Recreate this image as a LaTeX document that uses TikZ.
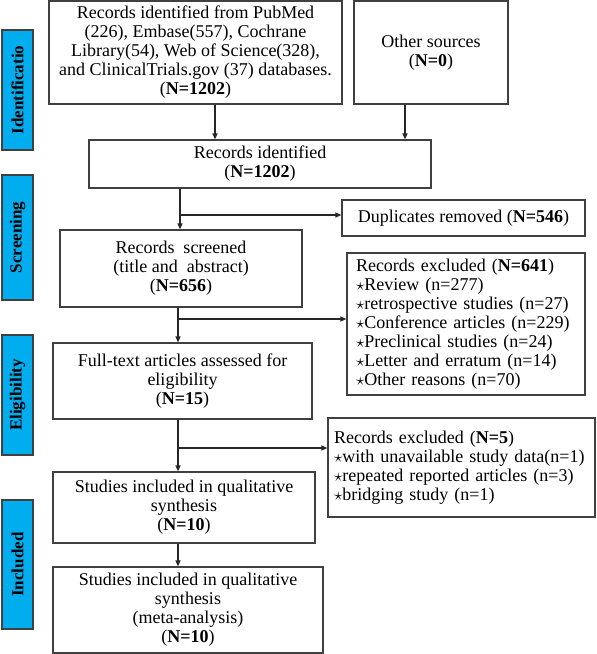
\documentclass[tikz,border=0pt]{standalone}
\usepackage{fontspec}
\setmainfont{Liberation Serif}
\usetikzlibrary{arrows.meta}
\definecolor{sideblue}{RGB}{0,174,239}
\definecolor{edge}{RGB}{64,64,64}
\begin{document}
\begin{tikzpicture}[x=1pt,y=-1pt,
  box/.style={draw=edge,line width=1.2pt,inner sep=0pt,align=center,font=\fontsize{18}{19}\selectfont},
  lbox/.style={draw=edge,line width=1.2pt,inner ysep=0pt,align=left,font=\fontsize{18}{19}\selectfont},
  side/.style={draw=edge,line width=1.2pt,fill=sideblue,inner sep=0pt,minimum height=31pt,rotate=90,font=\fontsize{17}{19}\selectfont\bfseries},
  arr/.style={draw=black!85,line width=1.2pt,-{Triangle[length=6pt,width=5pt]}}]
\useasboundingbox (0,0) rectangle (597,654);
% side labels
\node[side,minimum width=120pt] (s1) at (17.5,90) {Identificatio};
\node[side,minimum width=125pt] (s2) at (17.5,237.5) {Screening};
\node[side,minimum width=120pt] (s3) at (17.5,395) {Eligibility};
\node[side,minimum width=129pt] (s4) at (17.5,564.5) {Included};
% boxes
\node[box,minimum width=293pt,minimum height=103pt] (db) at (195.5,52.5)
 {Records identified from PubMed\\(226), Embase(557), Cochrane\\Library(54), Web of Science(328),\\and ClinicalTrials.gov (37) databases.\\(\textbf{N=1202})};
\node[box,minimum width=154pt,minimum height=103pt] (oth) at (431,52.5)
 {Other sources\\(\textbf{N=0})};
\node[box,minimum width=342pt,minimum height=48pt] (rid) at (260,164)
 {Records identified\\(\textbf{N=1202})};
\node[box,minimum width=243pt,minimum height=36pt] (dup) at (463.5,218)
 {Duplicates removed (\textbf{N=546})};
\node[box,minimum width=242pt,minimum height=77pt] (scr) at (181,268.5)
 {Records\ \ screened\\(title and\ \ abstract)\\(\textbf{N=656})};
\node[lbox,inner xsep=9pt,text width=220pt,minimum height=142pt] (ex1) at (466,324)
 {Records excluded (\textbf{N=641})\\
 $\star$Review (n=277)\\
 $\star$retrospective studies (n=27)\\
 $\star$Conference articles (n=229)\\
 $\star$Preclinical studies (n=24)\\
 $\star$Letter and erratum (n=14)\\
 $\star$Other reasons (n=70)};
\node[box,minimum width=259pt,minimum height=76pt] (ft) at (182.5,381)
 {Full-text articles assessed for\\eligibility\\(\textbf{N=15})};
\node[lbox,inner xsep=6pt,text width=255pt,minimum height=99pt] (ex2) at (461.5,467.5)
 {Records excluded (\textbf{N=5})\\
 $\star$with unavailable study data(n=1)\\
 $\star$repeated reported articles (n=3)\\
 $\star$bridging study (n=1)\\[17pt]};
\node[box,minimum width=262pt,minimum height=71pt] (st1) at (184,507.5)
 {Studies included in qualitative\\synthesis\\(\textbf{N=10})};
\node[box,minimum width=270pt,minimum height=86pt] (st2) at (188,610)
 {Studies included in qualitative\\synthesis\\(meta-analysis)\\(\textbf{N=10})};
% coordinates
\coordinate (xa) at (215,0);
\coordinate (xb) at (405,0);
\coordinate (m1) at (180,0);
\coordinate (m2) at (178,0);
\coordinate (b1) at (180,215);
\coordinate (b2) at (178,319);
\coordinate (b3) at (178,448);
% connectors
\draw[arr] (db.south -| xa) -- (rid.north -| xa);
\draw[arr] (oth.south -| xb) -- (rid.north -| xb);
\draw[arr] (rid.south -| m1) -- (scr.north -| m1);
\draw[arr] (b1) -- (b1 -| dup.west);
\draw[arr] (scr.south -| m2) -- (ft.north -| m2);
\draw[arr] (b2) -- (b2 -| ex1.west);
\draw[arr] (ft.south -| m2) -- (st1.north -| m2);
\draw[arr] (b3) -- (b3 -| ex2.west);
\draw[arr] (st1.south -| m2) -- (st2.north -| m2);
\end{tikzpicture}
\end{document}
